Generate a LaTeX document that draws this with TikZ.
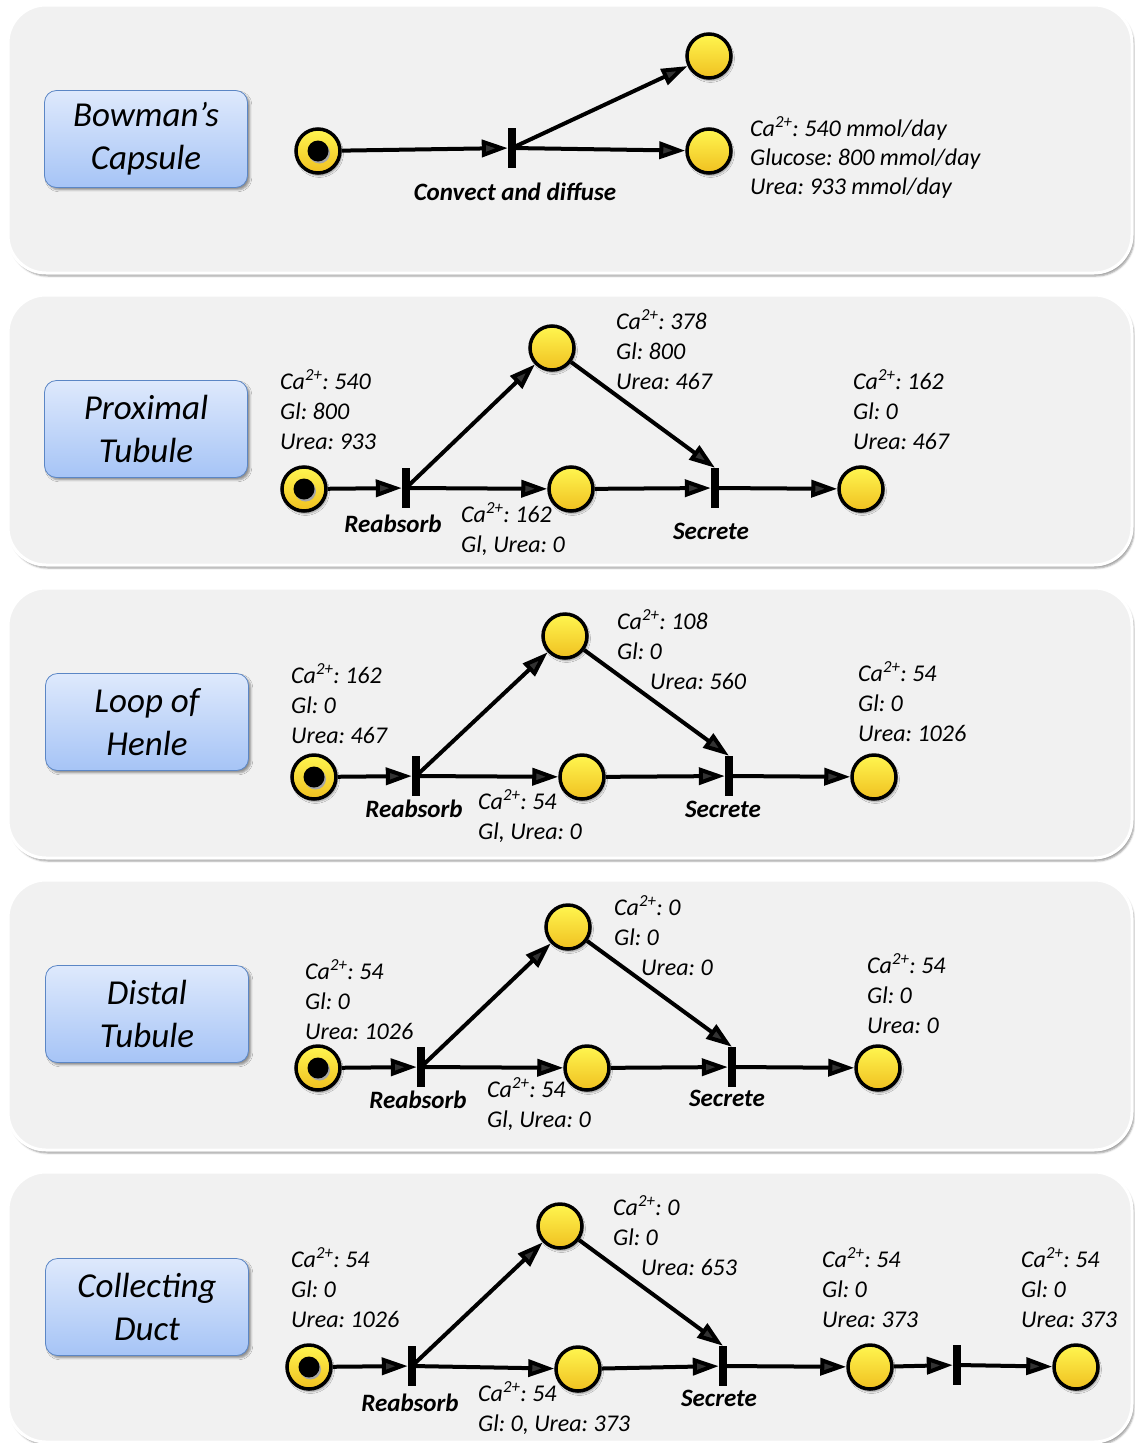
\documentclass[tikz,border=0pt]{standalone}
\usepackage{fontspec}
\setmainfont{Carlito}
\usepackage{tikz}
\usetikzlibrary{arrows.meta,shadows.blur}
\definecolor{panelgray}{HTML}{F1F1F1}
\definecolor{tokentop}{HTML}{FFF650}
\definecolor{tokenbottom}{HTML}{F0C020}
\definecolor{labeltop}{HTML}{DEE9FC}
\definecolor{labelbottom}{HTML}{A6C4F6}
\definecolor{labeledge}{HTML}{5B86C5}
\newcommand{\ca}{Ca\textsuperscript{2+}}
\frenchspacing
\tikzset{
  panel/.style={rounded corners=38pt,draw=white,line width=3pt,fill=panelgray,
    blur shadow={shadow xshift=2pt,shadow yshift=-3pt}},
  stage/.style={rectangle,rounded corners=12pt,draw=labeledge,thick,top color=labeltop,
    bottom color=labelbottom,minimum width=203pt,minimum height=97pt,align=center,
    font=\fontsize{35}{43}\selectfont\itshape,blur shadow},
  place/.style={circle,draw=black,line width=3.5pt,top color=tokentop,bottom color=tokenbottom,
    minimum size=44pt,inner sep=0pt,blur shadow={shadow xshift=1.5pt,shadow yshift=-2.5pt}},
  marked/.style={place,path picture={
    \fill[black!35] ([xshift=1.5pt,yshift=-2pt]path picture bounding box.center) circle (10.5pt);
    \fill[black] (path picture bounding box.center) circle (10.5pt);}},
  trans/.style={rectangle,fill=black,minimum width=8pt,minimum height=40pt,inner sep=0pt},
  arc/.style={-{Triangle[length=26pt,width=17pt]},line width=4pt},
  tlabel/.style={font=\fontsize{25}{28}\selectfont\bfseries\itshape,inner sep=0pt},
  data/.style={anchor=north west,align=left,inner sep=0pt,font=\fontsize{24}{30}\selectfont\itshape}
}
\begin{document}
\begin{tikzpicture}[x=1pt,y=-1pt]
\useasboundingbox (0,0) rectangle (1135,1443);
% panels
\path[panel] (8,5) rectangle (1132,273);
\path[panel] (8,295) rectangle (1132,565);
\path[panel] (8,588) rectangle (1132,858);
\path[panel] (8,880) rectangle (1132,1150);
\path[panel] (8,1172) rectangle (1132,1442);

% Bowman's capsule
\node[stage] (bowman) at (146,139) {Bowman's\\Capsule};
\node[marked] (p1in) at (318,151) {};
\node[trans] (p1t) at (512,148) {};
\node[place] (p1up) at (709,56) {};
\node[place] (p1out) at (709,151) {};
\node[tlabel] (p1tl) at (515,192) {Convect and diffuse};
\node[data,font=\fontsize{24}{29}\selectfont\itshape] (p1d) at (750,116) {\ca: 540 mmol/day\\Glucose: 800 mmol/day\\Urea: 933 mmol/day};
\draw[arc] (p1in) -- (p1t);
\draw[arc] (p1t.center) -- (p1up);
\draw[arc] (p1t.center) -- (p1out);

% proximal tubule
\node[stage] (proximal) at (146,429) {Proximal\\Tubule};
\node[marked] (p2in) at (304,489) {};
\node[trans] (p2r) at (406,488) {};
\node[place] (p2up) at (552,348) {};
\node[place] (p2mid) at (571,489) {};
\node[trans] (p2s) at (715,488) {};
\node[place] (p2out) at (861,489) {};
\node[tlabel] (p2rl) at (393,524) {Reabsorb};
\node[tlabel] (p2sl) at (711,531) {Secrete};
\node[data] (p2din) at (280,369) {\ca: 540\\Gl: 800\\Urea: 933};
\node[data] (p2dmid) at (461,502) {\ca: 162\\Gl, Urea: 0};
\node[data] (p2dup) at (616,309) {\ca: 378\\Gl: 800\\Urea: 467};
\node[data] (p2dout) at (853,369) {\ca: 162\\Gl: 0\\Urea: 467};
\draw[arc] (p2in) -- (p2r);
\draw[arc] (p2r.center) -- (p2up);
\draw[arc] (p2r.center) -- (p2mid);
\draw[arc] (p2up) -- (p2s.north);
\draw[arc] (p2mid) -- (p2s);
\draw[arc] (p2s) -- (p2out);

% loop of Henle
\node[stage] (henle) at (147,722) {Loop of\\Henle};
\node[marked] (p3in) at (314,777) {};
\node[trans] (p3r) at (416,776) {};
\node[place] (p3up) at (565,636) {};
\node[place] (p3mid) at (582,777) {};
\node[trans] (p3s) at (729,776) {};
\node[place] (p3out) at (874,777) {};
\node[tlabel] (p3rl) at (414,809) {Reabsorb};
\node[tlabel] (p3sl) at (723,809) {Secrete};
\node[data] (p3din) at (291,663) {\ca: 162\\Gl: 0\\Urea: 467};
\node[data] (p3dmid) at (478,789) {\ca: 54\\Gl, Urea: 0};
\node[data] (p3dup) at (617,609) {\ca: 108\\Gl: 0\\\hspace*{33pt}Urea: 560};
\node[data] (p3dout) at (858,661) {\ca: 54\\Gl: 0\\Urea: 1026};
\draw[arc] (p3in) -- (p3r);
\draw[arc] (p3r.center) -- (p3up);
\draw[arc] (p3r.center) -- (p3mid);
\draw[arc] (p3up) -- (p3s.north);
\draw[arc] (p3mid) -- (p3s);
\draw[arc] (p3s) -- (p3out);

% distal tubule
\node[stage] (distal) at (147,1014) {Distal\\Tubule};
\node[marked] (p4in) at (318,1068) {};
\node[trans] (p4r) at (421,1067) {};
\node[place] (p4up) at (568,927) {};
\node[place] (p4mid) at (587,1068) {};
\node[trans] (p4s) at (732,1067) {};
\node[place] (p4out) at (878,1068) {};
\node[tlabel] (p4rl) at (418,1100) {Reabsorb};
\node[tlabel] (p4sl) at (727,1098) {Secrete};
\node[data] (p4din) at (305,959) {\ca: 54\\Gl: 0\\Urea: 1026};
\node[data] (p4dmid) at (487,1077) {\ca: 54\\Gl, Urea: 0};
\node[data] (p4dup) at (614,895) {\ca: 0\\Gl: 0\\\hspace*{27pt}Urea: 0};
\node[data] (p4dout) at (867,953) {\ca: 54\\Gl: 0\\Urea: 0};
\draw[arc] (p4in) -- (p4r);
\draw[arc] (p4r.center) -- (p4up);
\draw[arc] (p4r.center) -- (p4mid);
\draw[arc] (p4up) -- (p4s.north);
\draw[arc] (p4mid) -- (p4s);
\draw[arc] (p4s) -- (p4out);

% collecting duct
\node[stage] (collecting) at (147,1307) {Collecting\\Duct};
\node[marked] (p5in) at (309,1367) {};
\node[trans] (p5r) at (412,1366) {};
\node[place] (p5up) at (560,1226) {};
\node[place] (p5mid) at (578,1369) {};
\node[trans] (p5s) at (723,1366) {};
\node[place] (p5out) at (870,1367) {};
\node[trans] (p5t) at (957,1365) {};
\node[place] (p5end) at (1076,1367) {};
\node[tlabel] (p5rl) at (410,1403) {Reabsorb};
\node[tlabel] (p5sl) at (719,1398) {Secrete};
\node[data] (p5din) at (291,1247) {\ca: 54\\Gl: 0\\Urea: 1026};
\node[data] (p5dmid) at (478,1381) {\ca: 54\\Gl: 0, Urea: 373};
\node[data] (p5dup) at (613,1195) {\ca: 0\\Gl: 0\\\hspace*{28pt}Urea: 653};
\node[data] (p5dout) at (822,1247) {\ca: 54\\Gl: 0\\Urea: 373};
\node[data] (p5dend) at (1021,1247) {\ca: 54\\Gl: 0\\Urea: 373};
\draw[arc] (p5in) -- (p5r);
\draw[arc] (p5r.center) -- (p5up);
\draw[arc] (p5r.center) -- (p5mid);
\draw[arc] (p5up) -- (p5s.north);
\draw[arc] (p5mid) -- (p5s);
\draw[arc] (p5s) -- (p5out);
\draw[arc] (p5out) -- (p5t);
\draw[arc] (p5t) -- (p5end);
\end{tikzpicture}
\end{document}
